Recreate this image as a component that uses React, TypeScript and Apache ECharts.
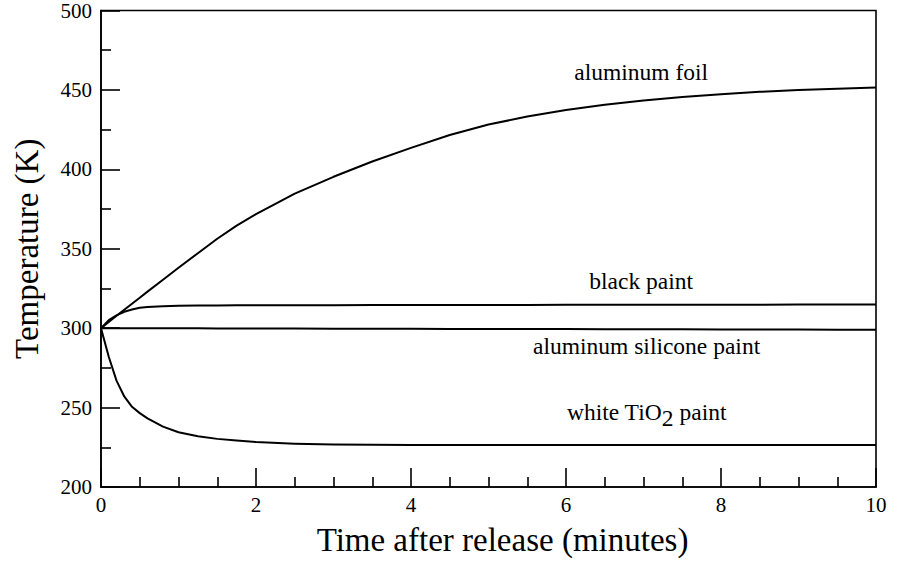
import React, { useEffect, useRef } from "react";
import * as echarts from "echarts";

const times = [0, 0.1, 0.2, 0.3, 0.4, 0.5, 0.6, 0.8, 1, 1.25, 1.5, 1.75, 2, 2.5, 3, 3.5, 4, 4.5, 5, 5.5, 6, 6.5, 7, 7.5, 8, 8.5, 9, 9.5, 10];
const aluminumFoil = [300, 303.9, 307.8, 311.6, 315.4, 319.2, 323, 330.5, 338, 347.2, 356.3, 364.6, 371.8, 384.7, 395.3, 404.9, 413.5, 421.6, 428.2, 433.2, 437.3, 440.6, 443.3, 445.5, 447.3, 448.8, 449.9, 450.8, 451.5];
const blackPaint = [300, 305, 308, 310.3, 311.8, 312.8, 313.3, 313.8, 314.1, 314.2, 314.3, 314.35, 314.4, 314.45, 314.5, 314.55, 314.6, 314.6, 314.65, 314.65, 314.7, 314.7, 314.75, 314.75, 314.8, 314.8, 314.85, 314.85, 314.9];
const siliconePaint = [300, 300, 300, 299.98, 299.97, 299.96, 299.95, 299.93, 299.9, 299.88, 299.85, 299.82, 299.8, 299.75, 299.7, 299.65, 299.6, 299.55, 299.5, 299.45, 299.4, 299.35, 299.3, 299.25, 299.2, 299.15, 299.1, 299.05, 299];
const whitePaint = [300, 282, 267, 257, 250.5, 246.5, 243.2, 238, 234.5, 232, 230.3, 229.2, 228.3, 227.3, 226.8, 226.6, 226.5, 226.5, 226.4, 226.4, 226.4, 226.4, 226.4, 226.4, 226.4, 226.4, 226.4, 226.4, 226.4];

const seriesNames = ["aluminum foil", "black paint", "aluminum silicone paint", "white TiO2 paint"];
const seriesValues = [aluminumFoil, blackPaint, siliconePaint, whitePaint];

const labelTexts = ["aluminum foil", "black paint", "aluminum silicone paint", "white TiO{sub|2} paint"];
const labelTimes = [6.97, 6.97, 7.04, 7.04];
const labelTemps = [461, 329.5, 288.5, 247];

const xTitle = "Time after release (minutes)";
const yTitle = "Temperature (K)";

const FONT = "Times New Roman";

export default function App() {
  const ref = useRef<HTMLDivElement>(null);
  useEffect(() => {
    document.body.style.margin = "0";
    const chart = echarts.init(ref.current!, null, { renderer: "svg" });
    const axisLine = { show: true, lineStyle: { color: "#000", width: 1.6 } };
    chart.setOption({
      animation: false,
      backgroundColor: "#fff",
      grid: {
        left: 101,
        right: 21,
        top: 10.5,
        bottom: 74,
        show: true,
        borderColor: "#000",
        borderWidth: 1.6,
      },
      xAxis: {
        type: "value",
        min: 0,
        max: 10,
        interval: 2,
        axisLine,
        axisTick: { show: true, inside: true, length: 19, lineStyle: { color: "#000", width: 1.6 } },
        minorTick: { show: true, splitNumber: 4, length: 10, lineStyle: { color: "#000", width: 1.6 } },
        splitLine: { show: false },
        axisLabel: { color: "#000", fontFamily: FONT, fontSize: 21, margin: 7 },
        name: xTitle,
        nameLocation: "middle",
        nameGap: 36,
        nameTextStyle: { color: "#000", fontFamily: FONT, fontSize: 33, padding: [0, 0, 0, 28] },
      },
      yAxis: {
        type: "value",
        min: 200,
        max: 500,
        interval: 50,
        axisLine,
        axisTick: { show: true, inside: true, length: 19, lineStyle: { color: "#000", width: 1.6 } },
        minorTick: { show: true, splitNumber: 2, length: 10, lineStyle: { color: "#000", width: 1.6 } },
        splitLine: { show: false },
        axisLabel: { color: "#000", fontFamily: FONT, fontSize: 21, margin: 9 },
        name: yTitle,
        nameLocation: "middle",
        nameGap: 58,
        nameTextStyle: { color: "#000", fontFamily: FONT, fontSize: 33 },
      },
      series: seriesValues.map((vals, i) => ({
        name: seriesNames[i],
        type: "line",
        data: times.map((t, j) => [t, vals[j]]),
        showSymbol: false,
        symbol: "none",
        smooth: false,
        lineStyle: { color: "#000", width: 2, join: "round" },
      })),
    });
    const graphics = labelTexts.map((txt, i) => {
      const [px, py] = chart.convertToPixel({ gridIndex: 0 }, [labelTimes[i], labelTemps[i]]) as number[];
      return {
        type: "text",
        x: px,
        y: py,
        style: {
          text: txt,
          fill: "#000",
          fontFamily: FONT,
          fontSize: 23.5,
          align: "center",
          verticalAlign: "middle",
          rich: {
            sub: { fontSize: 23.5, fontFamily: FONT, padding: [12, 0, 0, 0], fill: "#000" },
          },
        },
      };
    });
    chart.setOption({ graphic: graphics });
    return () => chart.dispose();
  }, []);
  return <div ref={ref} style={{ width: 897, height: 561 }} />;
}
